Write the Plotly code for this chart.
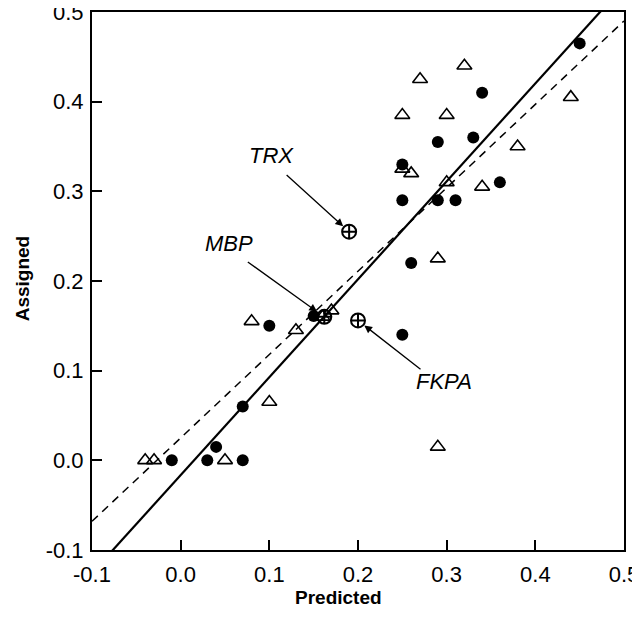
import plotly.graph_objects as go

# Filled circles
circ_x = [0.45, 0.34, 0.29, 0.33, 0.25, 0.25, 0.29, 0.31, 0.36, 0.26, 0.25, 0.10, 0.15, 0.07, -0.01, 0.03, 0.04, 0.07]
circ_y = [0.465, 0.41, 0.355, 0.36, 0.33, 0.29, 0.29, 0.29, 0.31, 0.22, 0.14, 0.15, 0.161, 0.06, 0.0, 0.0, 0.015, 0.0]

# Open triangles
tri_x = [0.32, 0.27, 0.44, 0.25, 0.30, 0.38, 0.25, 0.26, 0.30, 0.34, 0.29, 0.29, 0.08, 0.13, 0.17, 0.16, 0.10, -0.04, -0.03, 0.05]
tri_y = [0.44, 0.425, 0.405, 0.385, 0.385, 0.35, 0.325, 0.32, 0.31, 0.305, 0.225, 0.015, 0.155, 0.145, 0.167, 0.16, 0.065, 0.0, 0.0, 0.0]

# Labelled proteins (circle with cross)
lab_names = ["TRX", "MBP", "FKPA"]
lab_x = [0.19, 0.162, 0.20]
lab_y = [0.255, 0.16, 0.156]

# Fitted lines: slope, intercept
solid_fit = (1.092, -0.0165)
dashed_fit = (0.93, 0.025)

x_range = [-0.1, 0.5]
y_range = [-0.1, 0.5]
tick_vals = [-0.1, 0.0, 0.1, 0.2, 0.3, 0.4, 0.5]
tick_text = ["-0.1", "0.0", "0.1", "0.2", "0.3", "0.4", "0.5"]

FONT = "Liberation Sans, Arial, Helvetica, sans-serif"

fig = go.Figure()

def line_pts(fit):
    m, b = fit
    xs = [x_range[0], x_range[1]]
    return xs, [m * v + b for v in xs]

dx, dy = line_pts(dashed_fit)
fig.add_trace(go.Scatter(x=dx, y=dy, mode="lines",
                         line=dict(color="black", width=1.5, dash="8px,6px"), showlegend=False))
sx, sy = line_pts(solid_fit)
fig.add_trace(go.Scatter(x=sx, y=sy, mode="lines",
                         line=dict(color="black", width=2.2), showlegend=False))

fig.add_trace(go.Scatter(x=circ_x, y=circ_y, mode="markers",
                         marker=dict(symbol="circle", size=12, color="black"), showlegend=False))
fig.add_trace(go.Scatter(x=lab_x, y=lab_y, mode="markers",
                         marker=dict(symbol="circle-cross-open", size=14, color="black",
                                     line=dict(width=2, color="black")), showlegend=False))
fig.add_trace(go.Scatter(x=tri_x, y=tri_y, mode="markers",
                         marker=dict(symbol="triangle-up-open", size=13, color="black",
                                     line=dict(width=1.6, color="black")), showlegend=False))

# arrow tail offsets (px) and text offsets (px) per label
arrow_off = {"TRX": (-64, -58), "MBP": (-78, -56), "FKPA": (64, 50)}
text_off = {"TRX": (-78, 76), "MBP": (-95, 73), "FKPA": (86, -61)}
standoff = {"TRX": 8, "MBP": 9, "FKPA": 8}

for name, x, y in zip(lab_names, lab_x, lab_y):
    ax, ay = arrow_off[name]
    fig.add_annotation(x=x, y=y, text="", showarrow=True, ax=ax, ay=ay,
                       arrowhead=2, arrowsize=1.2, arrowwidth=1.3, arrowcolor="black",
                       standoff=standoff[name])
    tx, ty = text_off[name]
    fig.add_annotation(x=x, y=y, text=name, showarrow=False, xshift=tx, yshift=ty,
                       font=dict(family=FONT, size=22, color="black", style="italic"))

# axis titles as annotations
fig.add_annotation(xref="paper", yref="paper", x=0.464, y=0, yshift=-47, yanchor="middle",
                   text="<b>Predicted</b>", showarrow=False,
                   font=dict(family=FONT, size=19, color="black"))
fig.add_annotation(xref="paper", yref="paper", x=0, y=0.505, xshift=-70, xanchor="center",
                   text="<b>Assigned</b>", showarrow=False, textangle=-90,
                   font=dict(family=FONT, size=19, color="black"))

axis_common = dict(
    showgrid=False, zeroline=False, showline=True, linewidth=2, linecolor="black",
    mirror=True, ticks="inside", ticklen=10, tickwidth=2, tickcolor="black",
    tickfont=dict(family=FONT, size=22, color="black"),
    tickvals=tick_vals, ticktext=tick_text, automargin=False,
    ticklabeloverflow="allow",
)

fig.update_xaxes(range=x_range, ticklabelstandoff=4, **axis_common)
fig.update_yaxes(range=y_range, ticklabelstandoff=2, **axis_common)

# page body has an 8px default margin, so the figure is sized to fit the window
fig.update_layout(
    width=632, height=616,
    margin=dict(l=84, r=16, t=4, b=74),
    plot_bgcolor="white", paper_bgcolor="white",
)

fig.write_html("out.html")
